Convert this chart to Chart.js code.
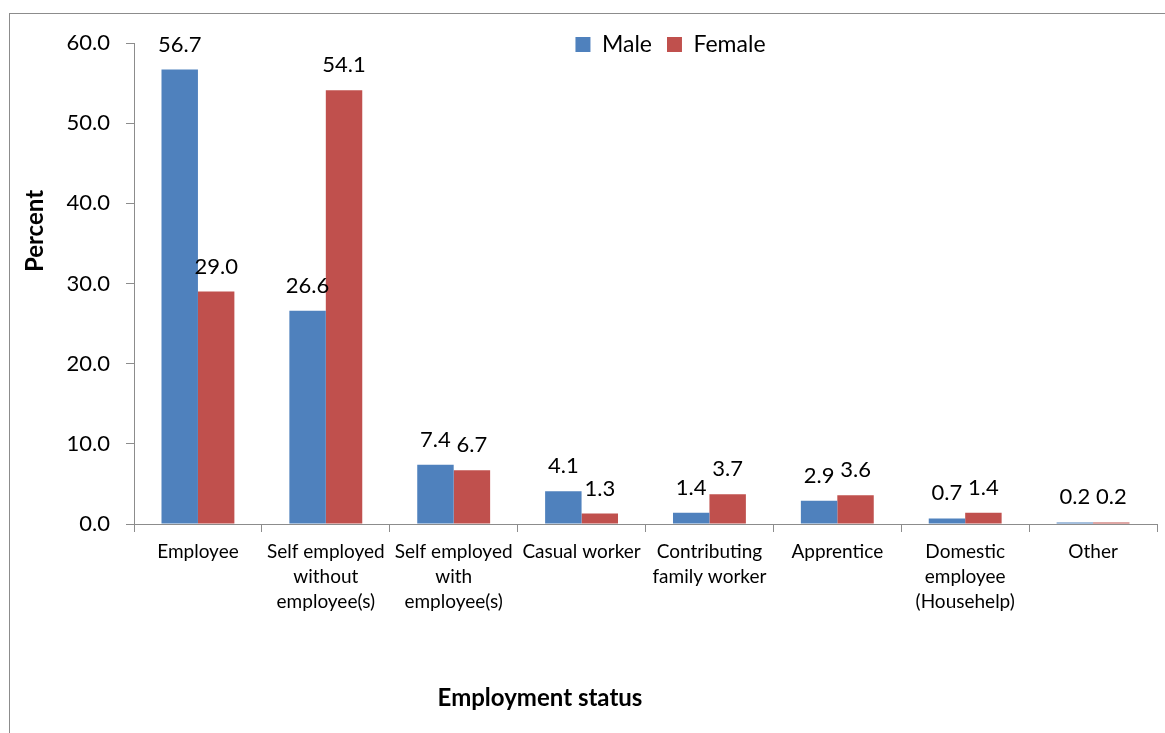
<!DOCTYPE html>
<html>
<head>
<meta charset="utf-8">
<script src="https://cdn.jsdelivr.net/npm/chart.js@4.4.0/dist/chart.umd.min.js"></script>
<style>
  body { margin: 0; background: #fff; overflow: hidden; }
  #frame { position: absolute; left: 9px; top: 13px; width: 1300px; height: 900px; border: 1px solid #8c8c8c; }
  #wrap { position: absolute; left: 0; top: 0; width: 1165px; height: 733px; }
</style>
</head>
<body>
<div id="frame"></div>
<div id="wrap"><canvas id="empChart" width="1165" height="733"></canvas></div>
<script>
// categories along the x axis
var categories = [
  'Employee',
  ['Self employed', 'without', 'employee(s)'],
  ['Self employed', 'with', 'employee(s)'],
  'Casual worker',
  ['Contributing', 'family worker'],
  'Apprentice',
  ['Domestic', 'employee', '(Househelp)'],
  'Other'
];
var maleValues = [56.7, 26.6, 7.4, 4.1, 1.4, 2.9, 0.7, 0.2];
var femaleValues = [29.0, 54.1, 6.7, 1.3, 3.7, 3.6, 1.4, 0.2];
var yTicks = [0, 10, 20, 30, 40, 50, 60];

var fontFam = 'Lato, "Liberation Sans", sans-serif';

// value labels above each bar
var barLabels = {
  id: 'barLabels',
  afterDatasetsDraw: function(chart) {
    var ctx = chart.ctx;
    ctx.save();
    ctx.font = '22px ' + fontFam;
    ctx.fillStyle = '#000';
    ctx.textAlign = 'center';
    ctx.textBaseline = 'bottom';
    chart.data.datasets.forEach(function(ds, i) {
      chart.getDatasetMeta(i).data.forEach(function(bar, j) {
        ctx.fillText(ds.data[j].toFixed(1), bar.x, bar.y - 14);
      });
    });
    ctx.restore();
  }
};

// axis titles placed like the original
var axisTitles = {
  id: 'axisTitles',
  afterDraw: function(chart) {
    var ctx = chart.ctx;
    ctx.save();
    ctx.font = 'bold 24px ' + fontFam;
    ctx.fillStyle = '#000';
    ctx.textAlign = 'center';
    ctx.textBaseline = 'middle';
    ctx.fillText('Employment status', 540, 698);
    ctx.translate(35, 231);
    ctx.rotate(-Math.PI / 2);
    ctx.fillText('Percent', 0, 0);
    ctx.restore();
  }
};

// legend sits inside the plot area, laid out in one row
var legendRow = {
  id: 'legendRow',
  beforeUpdate: function(chart) {
    if (chart.legend) chart.legend.isHorizontal = function() { return true; };
  },
  afterLayout: function(chart) {
    var lg = chart.legend;
    if (!lg) return;
    lg.left = chart.chartArea.left + 50;
    lg.right = chart.chartArea.right;
    lg.width = lg.right - lg.left;
    lg.top = 18;
  }
};

var ctx = document.getElementById('empChart').getContext('2d');
var empChart = new Chart(ctx, {
  type: 'bar',
  data: {
    labels: categories,
    datasets: [{
      label: 'Male',
      data: maleValues,
      backgroundColor: '#4F81BD',
      categoryPercentage: 0.57,
      barPercentage: 1.0
    }, {
      label: 'Female',
      data: femaleValues,
      backgroundColor: '#C0504D',
      categoryPercentage: 0.57,
      barPercentage: 1.0
    }]
  },
  options: {
    responsive: false,
    animation: false,
    layout: { padding: { top: 43, right: 8, left: 0, bottom: 0 } },
    plugins: {
      tooltip: { enabled: false },
      legend: {
        position: 'chartArea',
        align: 'center',
        labels: {
          boxWidth: 15,
          boxHeight: 15,
          padding: 15,
          color: '#000',
          font: { size: 23, family: fontFam }
        }
      }
    },
    scales: {
      x: {
        afterFit: function(scale) { scale.height = 209; },
        grid: { offset: true, drawOnChartArea: false, tickLength: 8, color: '#8c8c8c' },
        border: { color: '#8c8c8c' },
        ticks: {
          maxRotation: 0,
          autoSkip: false,
          padding: 7,
          color: '#000',
          font: { size: 19, family: fontFam, lineHeight: 1.32 }
        }
      },
      y: {
        min: 0,
        max: 60,
        afterFit: function(scale) { scale.width = 134; },
        afterBuildTicks: function(scale) { scale.ticks = yTicks.map(function(v) { return { value: v }; }); },
        grid: { drawOnChartArea: false, tickLength: 8, color: '#8c8c8c' },
        border: { color: '#8c8c8c' },
        ticks: {
          padding: 16,
          color: '#000',
          font: { size: 22, family: fontFam },
          callback: function(v) { return v.toFixed(1); }
        }
      }
    }
  },
  plugins: [barLabels, axisTitles, legendRow]
});
</script>
</body>
</html>
